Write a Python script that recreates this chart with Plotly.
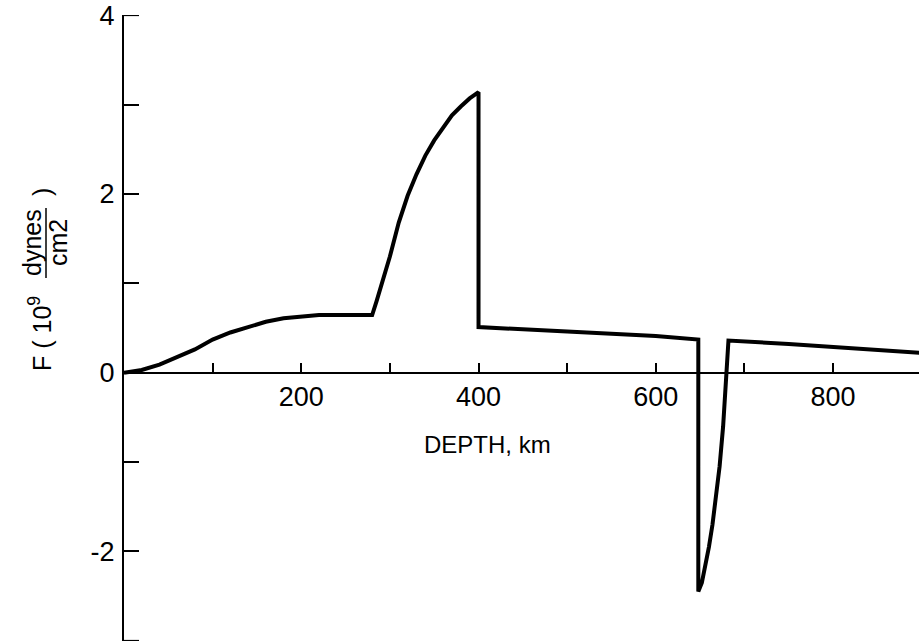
import plotly.graph_objects as go

# ---- data (depth in km, F in 10^9 dynes/cm^2) ----
depth = [0, 20, 40, 60, 80, 100, 120, 140, 160, 180, 200, 220, 250, 280,
         285, 290, 300, 310, 320, 330, 340, 350, 360, 370, 380, 390, 400,
         400, 500, 600, 648,
         648, 652, 656, 660, 664, 668, 672, 676, 679, 682,
         750, 800, 850, 900]
force = [0, 0.03, 0.09, 0.17, 0.26, 0.37, 0.45, 0.51, 0.57, 0.61, 0.63, 0.645, 0.645, 0.645,
         0.80, 0.96, 1.30, 1.68, 1.98, 2.22, 2.43, 2.60, 2.75, 2.88, 2.98, 3.07, 3.14,
         0.51, 0.46, 0.41, 0.37,
         -2.45, -2.35, -2.16, -1.95, -1.70, -1.40, -1.05, -0.60, -0.10, 0.36,
         0.32, 0.29, 0.26, 0.22]

x_ticks = [100, 200, 300, 400, 500, 600, 700, 800]
x_ticktext = ["", "200", "", "400", "", "600", "", "800"]
y_ticks = [-3, -2, -1, 0, 1, 2, 3, 4]
y_ticktext = ["", "-2", "", "0", "", "2", "", "4"]

W, H = 919, 643
L, R, T, B = 124, 0, 15, 2
X_RANGE = [0, 897]
Y_RANGE = [-3.004, 4.004]

def px2paper_x(px):
    return (px - L) / (W - L - R)

def px2paper_y(py):
    return (H - B - py) / (H - T - B)

FONT = "Liberation Sans, Arial, sans-serif"
FS = 27

fig = go.Figure()
fig.add_trace(go.Scatter(x=depth, y=force, mode="lines",
                         line=dict(color="black", width=4),
                         showlegend=False, hoverinfo="skip"))

fig.update_layout(
    width=W, height=H,
    margin=dict(l=L, r=R, t=T, b=B, pad=0),
    paper_bgcolor="white", plot_bgcolor="white",
    font=dict(family=FONT, size=FS, color="black"),
    xaxis=dict(range=X_RANGE, showgrid=False, zeroline=False,
               anchor="free", position=(0 - Y_RANGE[0]) / (Y_RANGE[1] - Y_RANGE[0]),
               showline=True, linecolor="black", linewidth=2,
               ticks="inside", ticklen=9, tickwidth=1.5, tickcolor="black",
               tickvals=x_ticks, ticktext=x_ticktext, ticklabelstandoff=0,
               tickfont=dict(size=FS, family=FONT)),
    yaxis=dict(range=Y_RANGE, showgrid=False, zeroline=False,
               showline=True, linecolor="black", linewidth=2,
               ticks="inside", ticklen=15, tickwidth=1.5, tickcolor="black",
               tickvals=y_ticks, ticktext=y_ticktext, ticklabelstandoff=2,
               tickfont=dict(size=FS, family=FONT)),
)

# end caps of the y axis (ticks at 4 and -3)
for yv in (y_ticks[0], y_ticks[-1]):
    fig.add_shape(type="line", xref="paper", yref="y",
                  x0=0, x1=15 / (W - L - R), y0=yv, y1=yv,
                  line=dict(color="black", width=1.5))

# x-axis title
fig.add_annotation(text="DEPTH, km", xref="paper", yref="paper",
                   x=px2paper_x(487), y=px2paper_y(445), showarrow=False,
                   font=dict(size=24, family=FONT), xanchor="center", yanchor="middle")

# y-axis title pieces (rotated)
TFS = 25
fig.add_annotation(text="F ( 10<sup>9</sup>", xref="paper", yref="paper",
                   x=px2paper_x(40), y=px2paper_y(334), showarrow=False, textangle=-90,
                   font=dict(size=TFS, family=FONT), xanchor="center", yanchor="middle")
fig.add_annotation(text="dynes", xref="paper", yref="paper",
                   x=px2paper_x(32), y=px2paper_y(243), showarrow=False, textangle=-90,
                   font=dict(size=TFS, family=FONT), xanchor="center", yanchor="middle")
fig.add_annotation(text="cm2", xref="paper", yref="paper",
                   x=px2paper_x(58), y=px2paper_y(243), showarrow=False, textangle=-90,
                   font=dict(size=TFS, family=FONT), xanchor="center", yanchor="middle")
fig.add_annotation(text=")", xref="paper", yref="paper",
                   x=px2paper_x(42), y=px2paper_y(192), showarrow=False, textangle=-90,
                   font=dict(size=TFS, family=FONT), xanchor="center", yanchor="middle")
fig.add_shape(type="line", xref="paper", yref="paper",
              x0=px2paper_x(46), x1=px2paper_x(46),
              y0=px2paper_y(208), y1=px2paper_y(278),
              line=dict(color="black", width=1.5))

fig.write_html("out.html")
